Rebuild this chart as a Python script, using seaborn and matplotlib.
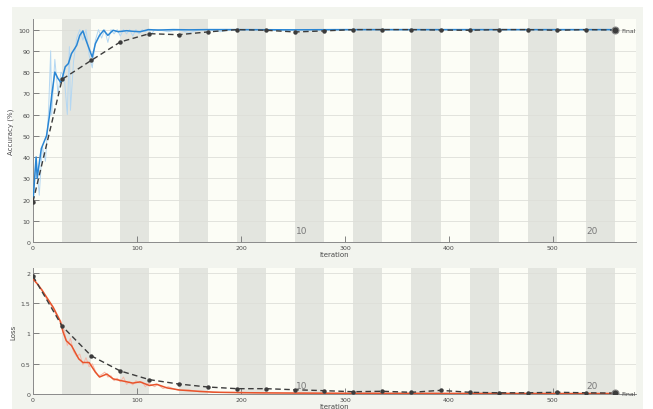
import matplotlib
matplotlib.use("Agg")
import matplotlib.pyplot as plt
from matplotlib.patches import Rectangle
import numpy as np
import pandas as pd
import seaborn as sns

# ---- training progress data ----
iters_per_epoch = 28
n_epochs = 20
final_iter = iters_per_epoch * n_epochs

# smoothed training accuracy (%)
acc_smooth_it = [0, 3, 4, 8, 13, 16, 18, 21, 24, 27, 31, 34, 37, 40, 42, 45, 48, 51, 54, 57,
                 60, 64, 68, 72, 77, 82, 90, 96, 103, 111, 120, 135, 150, 170, 200, 250,
                 300, 350, 400, 450, 500, 560]
acc_smooth = [19, 40, 30, 44, 50, 60, 69, 80, 77, 75, 82.5, 84, 88.7, 91, 92.6, 97.3, 99.4, 95, 91, 87,
              93.4, 97.3, 99.7, 97.3, 99.7, 99.0, 99.5, 99.2, 99.0, 100, 99.8, 100, 99.9, 100, 100, 99.9,
              100, 100, 100, 100, 100, 100]

# raw (per-iteration) training accuracy (%)
acc_raw_it = [0, 3, 6, 9, 12, 15, 17, 18, 21, 24, 27, 30, 33, 35, 36, 39, 42, 45, 48, 51, 54, 57,
              60, 63, 66, 69, 72, 75, 78, 81, 84, 87, 90, 93, 96, 99, 102, 105, 108, 111,
              114, 117, 120, 130, 140, 150, 160, 170, 180, 190, 200, 220, 240, 260, 280,
              300, 340, 380, 420, 460, 500, 540, 560]
acc_raw = [19, 40, 22, 45, 38, 62, 90, 60, 86, 70, 80, 78, 60, 92, 62, 85, 96, 100, 95, 100, 88, 82,
           95, 100, 96, 100, 94, 100, 98, 100, 97, 100, 98, 100, 97, 100, 98, 100, 99, 100,
           98, 100, 100, 99, 100, 98.5, 100, 100, 99, 100, 100, 100, 99.5, 100, 100,
           100, 100, 100, 100, 100, 100, 100, 100]

# smoothed training loss
loss_smooth_it = [0, 5, 10, 13, 19.5, 26, 29, 32, 37, 44, 48, 54, 60, 64, 71, 77, 85, 96, 103,
                  112, 119, 129, 141, 154, 173, 200, 250, 300, 400, 500, 560]
loss_smooth = [1.9, 1.8, 1.68, 1.6, 1.43, 1.21, 1.02, 0.88, 0.8, 0.58, 0.52, 0.52, 0.36, 0.28, 0.33,
               0.25, 0.22, 0.18, 0.2, 0.14, 0.16, 0.1, 0.066, 0.05, 0.03, 0.022, 0.015, 0.012,
               0.01, 0.008, 0.008]

# raw (per-iteration) training loss
loss_raw_it = [0, 3, 6, 9, 12, 15, 18, 21, 24, 27, 30, 33, 36, 39, 42, 45, 48, 51, 54, 57, 60,
               63, 66, 69, 72, 75, 78, 81, 84, 87, 90, 93, 96, 99, 102, 105, 108, 111, 114,
               117, 120, 125, 130, 140, 150, 160, 170, 180, 200, 220, 250, 300, 350, 400,
               450, 500, 560]
loss_raw = [1.95, 1.85, 1.78, 1.72, 1.6, 1.52, 1.45, 1.35, 1.25, 1.2, 1.05, 0.8, 0.92, 0.7, 0.62,
            0.66, 0.48, 0.6, 0.45, 0.5, 0.38, 0.3, 0.32, 0.36, 0.28, 0.3, 0.22, 0.26, 0.2, 0.28,
            0.16, 0.2, 0.15, 0.22, 0.18, 0.2, 0.12, 0.18, 0.15, 0.12, 0.16, 0.09, 0.12, 0.06,
            0.07, 0.035, 0.04, 0.025, 0.03, 0.015, 0.02, 0.01, 0.012, 0.008, 0.01, 0.006, 0.007]

# validation, evaluated once per epoch
val_it = [iters_per_epoch * k for k in range(n_epochs + 1)]
val_acc = [19, 76.6, 85.5, 94.2, 98.1, 97.6, 98.9, 100, 99.7, 98.9, 99.4,
           100, 100, 100, 99.8, 99.7, 100, 100, 99.7, 100, 99.8]
val_loss = [1.945, 1.12, 0.63, 0.38, 0.237, 0.165, 0.116, 0.088, 0.088, 0.07, 0.055,
            0.038, 0.045, 0.028, 0.06, 0.028, 0.02, 0.02, 0.028, 0.02, 0.015]

acc_ticks = list(range(0, 101, 10))
loss_ticks = [0, 0.5, 1, 1.5, 2]
iter_ticks = [0, 100, 200, 300, 400, 500]
epoch_labels = [10, 20]

# ---- styling ----
sns.set_theme(style="white")
plt.rcParams["font.family"] = ["DejaVu Sans"]

panel_bg = "#f2f4ee"
axes_bg = "#fcfdf6"
band_bg = "#e3e5df"
grid_c = "#dedfd9"
blue = "#2a86d4"
blue_raw = "#b4d7f2"
red = "#e8542c"
red_raw = "#f6b8a8"
val_c = "#3c3c3c"
txt_c = "#4a4a4a"

W, H = 653, 410
fig = plt.figure(figsize=(W / 100, H / 100), dpi=100)
fig.patch.set_facecolor("white")
fig.add_artist(Rectangle((12 / W, 0), (643 - 12) / W, (H - 8) / H,
                         transform=fig.transFigure, facecolor=panel_bg,
                         edgecolor="none", zorder=-10))

ax1 = fig.add_axes([33 / W, 1 - 243 / H, (636 - 33) / W, (243 - 20) / H])
ax2 = fig.add_axes([33 / W, 1 - 395 / H, (636 - 33) / W, (395 - 269) / H])


def style_axes(ax, yticks, ylim, ylabel, ytick_fmt):
    ax.set_facecolor(axes_bg)
    ax.set_xlim(0, 580)
    ax.set_ylim(*ylim)
    for k in range(2, n_epochs + 1, 2):
        ax.axvspan(iters_per_epoch * (k - 1), iters_per_epoch * k,
                   color=band_bg, lw=0, zorder=0)
    for y in yticks:
        ax.axhline(y, color=grid_c, lw=0.6, zorder=0.5)
    ax.set_yticks(yticks)
    ax.set_yticklabels([ytick_fmt(v) for v in yticks])
    ax.set_xticks(iter_ticks)
    ax.set_xticklabels([str(v) for v in iter_ticks])
    ax.tick_params(axis="both", direction="in", length=4, width=0.6,
                   labelsize=4.5, colors="#707070", labelcolor=txt_c, pad=2,
                   bottom=True, left=True)
    for side in ("top", "right"):
        ax.spines[side].set_visible(False)
    for side in ("left", "bottom"):
        ax.spines[side].set_color("#8a8a8a")
        ax.spines[side].set_linewidth(0.7)
    ax.set_xlabel("Iteration", fontsize=5, color=txt_c, labelpad=1)
    ax.set_ylabel(ylabel, fontsize=5, color=txt_c, labelpad=3)


style_axes(ax1, acc_ticks, (0, 105), "Accuracy (%)", lambda v: f"{v:g}")
style_axes(ax2, loss_ticks, (0, 2.08), "Loss", lambda v: f"{v:g}")

# accuracy panel
sns.lineplot(x=acc_raw_it, y=acc_raw, ax=ax1, color=blue_raw, lw=0.7,
             estimator=None, sort=False, zorder=2)
sns.lineplot(x=acc_smooth_it, y=acc_smooth, ax=ax1, color=blue, lw=1.1,
             estimator=None, sort=False, zorder=3)
sns.lineplot(x=val_it, y=val_acc, ax=ax1, color=val_c, lw=1.0, linestyle=(0, (4, 2.5)),
             marker="o", markersize=3.2, markeredgewidth=0, estimator=None, sort=False, zorder=4)

# loss panel
sns.lineplot(x=loss_raw_it, y=loss_raw, ax=ax2, color=red_raw, lw=0.7,
             estimator=None, sort=False, zorder=2)
sns.lineplot(x=loss_smooth_it, y=loss_smooth, ax=ax2, color=red, lw=1.1,
             estimator=None, sort=False, zorder=3)
sns.lineplot(x=val_it, y=val_loss, ax=ax2, color=val_c, lw=1.0, linestyle=(0, (4, 2.5)),
             marker="o", markersize=3.2, markeredgewidth=0, estimator=None, sort=False, zorder=4)

# final validation markers and epoch annotations
for ax, vals, ylim in ((ax1, val_acc, 105), (ax2, val_loss, 2.08)):
    ax.plot([val_it[-1]], [vals[-1]], "o", ms=5, mfc=val_c, mec="#888888", mew=0.8, zorder=5)
    ax.text(val_it[-1] + 6, vals[-1], "Final", fontsize=4.5, color=txt_c,
            va="center", ha="left")
    for ep in epoch_labels:
        x0 = iters_per_epoch * (ep - 1) + 6
        ax.text(x0, ylim * 0.03, str(ep), fontsize=6.5, color="#7a7a7a",
                ha="center", va="bottom")
    leg = ax.get_legend()
    if leg is not None:
        leg.remove()

fig.savefig("out.png", dpi=100, facecolor=fig.get_facecolor())
